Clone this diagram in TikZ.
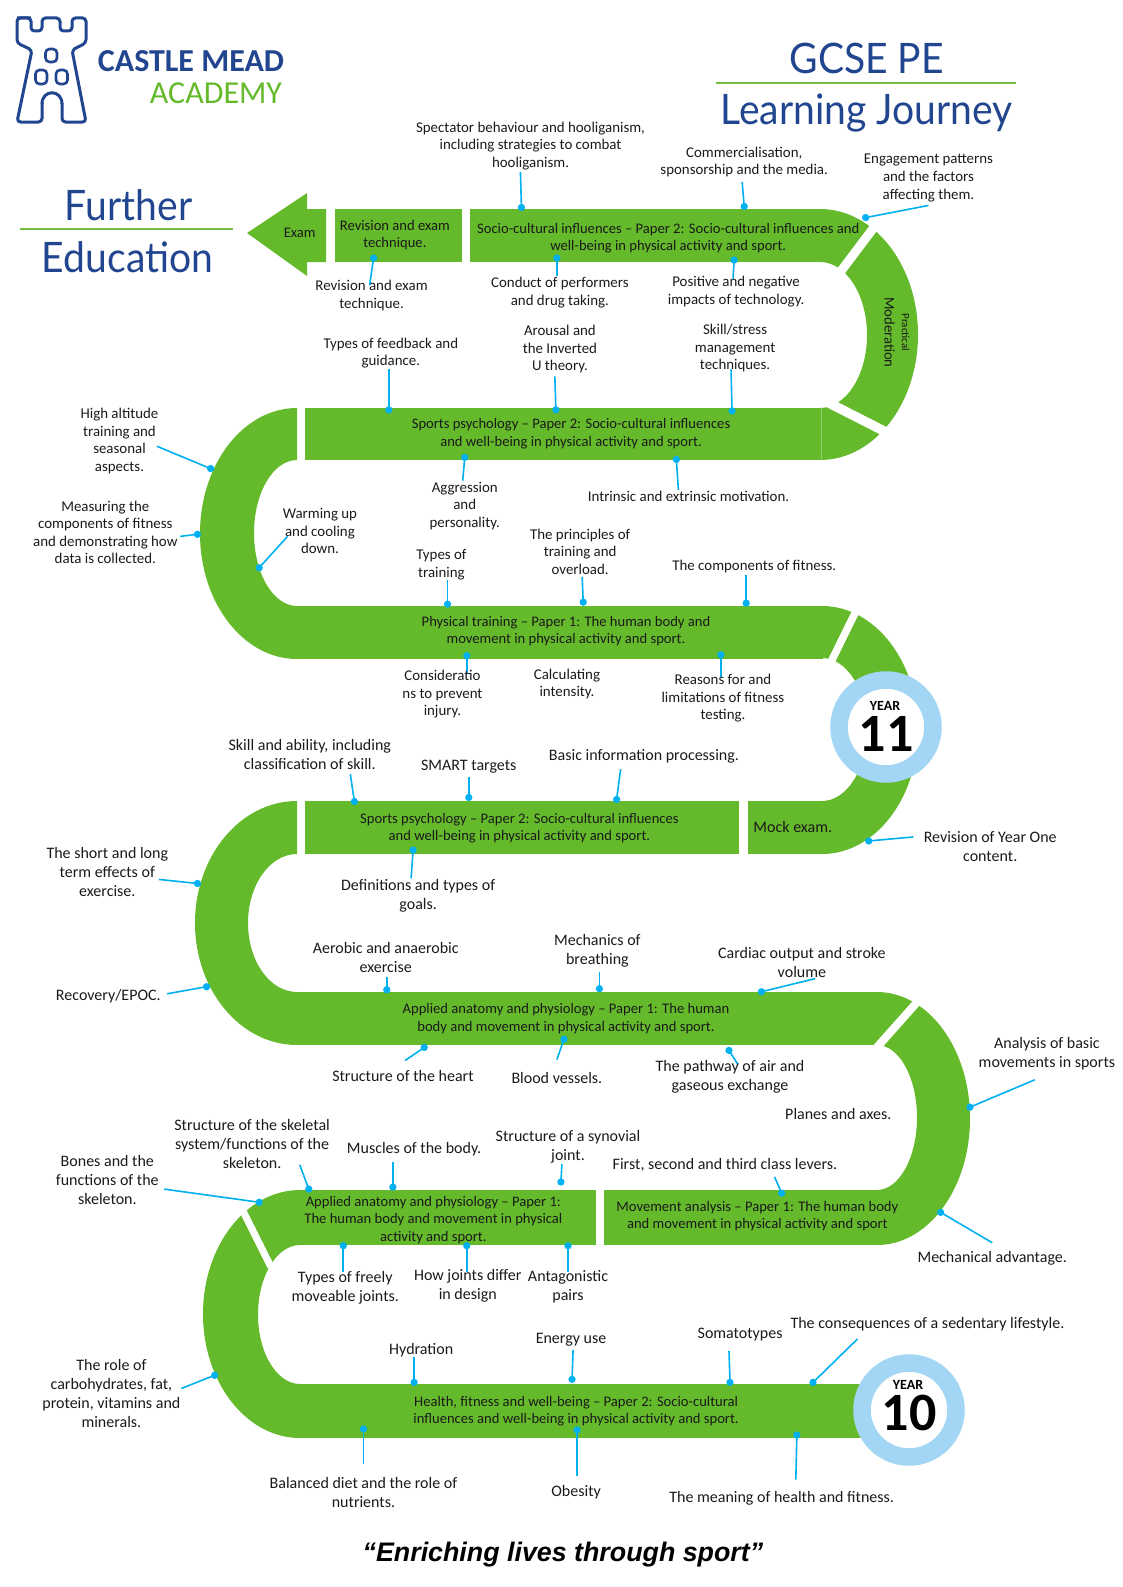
\documentclass[tikz,border=0pt]{standalone}
\usepackage{fontspec}
\setmainfont{Carlito}
\newfontfamily\titlefont[FakeStretch=0.93]{Lato}
\newfontfamily\quotefont{Liberation Sans}
\definecolor{trk}{HTML}{65BA2C}
\definecolor{blu}{HTML}{00B0F0}
\definecolor{nav}{HTML}{21468F}
\definecolor{ringc}{HTML}{A3D6F5}
\definecolor{txt}{HTML}{1A1A1A}
\tikzset{
 lab/.style={align=center,inner sep=0pt,text=txt,yshift=-1pt,font=\fontsize{14.9}{17.6}\selectfont},
 labw/.style={align=center,inner sep=0pt,text=txt,yshift=-0.6pt,font=\fontsize{16}{19}\selectfont},
 bandt/.style={align=center,inner sep=0pt,text=txt,yshift=-1.5pt,font=\fontsize{14.6}{17.2}\selectfont},
 conn/.style={draw=blu,line width=1.6pt},
 dotn/.style={circle,fill=blu,inner sep=0pt,minimum size=7.3pt},
 gapl/.style={draw=white,line width=#1},
 titlet/.style={inner sep=0pt,text=nav,font=\titlefont\fontsize{42}{46}\selectfont},
 ruleg/.style={draw=trk!90!white,line width=1.8pt},
 yearring/.style={circle,draw=ringc,fill=white,line width=17.5pt,minimum size=94pt,inner sep=0pt},
 yr/.style={inner sep=0pt,font=\bfseries\fontsize{14}{14}\selectfont},
 yn/.style={inner sep=0pt,text height=34pt,text depth=0pt,font=\bfseries\fontsize{54}{54}\selectfont}
}
\newcommand{\cn}[3]{\coordinate (s#1) at (#2); \node[dotn] (d#1) at (#3) {}; \draw[conn] (s#1) -- (d#1.center);}
\begin{document}
\begin{tikzpicture}[x=1pt,y=-1pt]
\useasboundingbox (0,0) rectangle (1123,1587);
% track
\fill[trk] (247,233) -- (307,193) -- (307,209) -- (326,209) -- (326,262) -- (307,262) -- (307,276) -- cycle;
\fill[trk] (335,209) rectangle (462,262);
\fill[trk] (470,209) rectangle (821,262);
\fill[trk] (820,209) arc[start angle=90,end angle=-90,x radius=98pt,y radius=125.5pt] -- (820,408) arc[start angle=-90,end angle=90,x radius=47pt,y radius=73pt] -- cycle;
\fill[trk] (305,408) rectangle (821,460);
\fill[trk] (297,408) arc[start angle=90,end angle=270,x radius=97pt,y radius=125.5pt] -- (297,606) arc[start angle=270,end angle=90,x radius=43pt,y radius=73pt] -- cycle;
\fill[trk] (297,606) rectangle (823,659);
\fill[trk] (822,606) arc[start angle=90,end angle=-90,x radius=96pt,y radius=124pt] -- (822,801) arc[start angle=-90,end angle=90,x radius=45pt,y radius=71.5pt] -- cycle;
\fill[trk] (748,801) rectangle (823,854);
\fill[trk] (305,801) rectangle (739,854);
\fill[trk] (297,801) arc[start angle=90,end angle=270,x radius=102pt,y radius=122pt] -- (297,992) arc[start angle=270,end angle=90,x radius=49pt,y radius=69pt] -- cycle;
\fill[trk] (297,992) rectangle (880,1045);
\fill[trk] (877,992) arc[start angle=90,end angle=-90,x radius=93pt,y radius=126.5pt] -- (877,1190) arc[start angle=-90,end angle=90,x radius=40pt,y radius=72.5pt] -- cycle;
\fill[trk] (604,1190) rectangle (879,1245);
\fill[trk] (300,1190) rectangle (596,1245);
\fill[trk] (300,1190) arc[start angle=90,end angle=270,x radius=97pt,y radius=124pt] -- (300,1384) arc[start angle=270,end angle=90,x radius=42pt,y radius=69.5pt] -- cycle;
\fill[trk] (300,1384) rectangle (890,1438);
% gaps
\draw[gapl=9pt] (878,222) -- (838,275);
\draw[gapl=9.5pt] (825,401) -- (893,435.6);
\draw[gapl=7.5pt] (858,607) -- (828,668);
\draw[gapl=8pt] (919,1000) -- (871,1054);
\draw[gapl=7pt] (243,1211) -- (271,1267);
\draw[line width=.4pt,color=trk!70!white] (821,408) -- (821,460);
% rings
\node[yearring] (ring11) at (886,727) {};
\node[yearring] (ring10) at (909,1410) {};
\node[yr] (y11a) at (885,705.5) {YEAR};
\node[yn] (y11b) at (886,734) {11};
\node[yr] (y10a) at (908,1384.5) {YEAR};
\node[yn] (y10b) at (909,1413) {10};
% logo
\draw[nav,line width=3pt,rounded corners=3.5pt] (17,18) -- (31,18) -- (31,31) -- (42,31) -- (42,18) -- (60,18) -- (60,31) -- (72,31) -- (72,18) -- (86,18) -- (86,43) -- (72,50) -- (86,122) -- (62,122) -- (62,103);
\draw[nav,line width=3pt] (62,104) .. controls (62,89) and (42,89) .. (42,104);
\draw[nav,line width=3pt,rounded corners=3.5pt] (42,103) -- (42,122) -- (17,122) -- (32,50) -- (17,43) -- (17,18) -- (31,18);
\draw[nav,line width=2.6pt,rounded corners=4pt] (45.5,49) rectangle (57,62);
\draw[nav,line width=2.6pt,rounded corners=4pt] (35.5,70) rectangle (47,84);
\draw[nav,line width=2.6pt,rounded corners=4pt] (56,70) rectangle (67.5,84);
\node[inner sep=0pt,text=nav,font=\bfseries\fontsize{32}{32}\selectfont] (logoa) at (191,61) {CASTLE MEAD};
\node[inner sep=0pt,text=trk,font=\fontsize{32}{32}\selectfont] (logob) at (216,93) {ACADEMY};
\begin{scope}[x=1.0125pt,y=-1.012pt]
% titles
\node[titlet] (gcse) at (856,58) {GCSE PE};
\coordinate (r1a) at (707,82); \coordinate (r1b) at (1003,82);
\draw[ruleg] (r1a) -- (r1b);
\node[titlet] (lj) at (856,112) {Learning Journey};
\node[titlet] (fur) at (127,203) {Further};
\coordinate (r2a) at (20,226); \coordinate (r2b) at (230,226);
\draw[ruleg] (r2a) -- (r2b);
\node[titlet] (edu) at (126,254) {Education};
\node[inner sep=0pt,font=\quotefont\bfseries\itshape\fontsize{26.8}{26.8}\selectfont] (quote) at (556,1536) {“Enriching lives through sport”};
% band labels
\node[bandt] (b1) at (296,229) {Exam};
\node[bandt] (b2) at (390,231) {Revision and exam\\technique.};
\node[bandt] (b3) at (660,234) {Socio-cultural influences – Paper 2: Socio-cultural influences and\\well-being in physical activity and sport.};
\node[bandt,rotate=-90] (b4) at (886,327) {{\fontsize{11}{13}\selectfont Practical}\\Moderation};
\node[bandt] (b5) at (564,427) {Sports psychology – Paper 2: Socio-cultural influences\\and well-being in physical activity and sport.};
\node[bandt] (b6) at (559,622) {Physical training – Paper 1: The human body and\\movement in physical activity and sport.};
\node[bandt] (b7) at (513,817) {Sports psychology – Paper 2: Socio-cultural influences\\and well-being in physical activity and sport.};
\node[labw] (b8) at (783,817) {Mock exam.};
\node[bandt] (b9) at (559,1005) {Applied anatomy and physiology – Paper 1: The human\\body and movement in physical activity and sport.};
\node[bandt] (b10) at (748,1200) {Movement analysis – Paper 1: The human body\\and movement in physical activity and sport};
\node[bandt] (b11) at (428,1204) {Applied anatomy and physiology – Paper 1:\\The human body and movement in physical\\activity and sport.};
\node[bandt] (b12) at (569,1393) {Health, fitness and well-being – Paper 2: Socio-cultural\\influences and well-being in physical activity and sport.};
% connectors
\cn{a}{514,170}{515,205}
\cn{b}{733,180}{735,204}
\cn{c}{917,203}{855,215}
\cn{d}{365,282}{369,255}
\cn{e}{550,273}{550,255}
\cn{f}{724,276}{725,257}
\cn{g}{384,365}{384,405}
\cn{h}{548,372}{549,405}
\cn{i}{722,365}{723,406}
\cn{j}{457,475}{459,452}
\cn{k}{670,484}{668,454}
\cn{l}{155,441}{208,463}
\cn{m}{178,530}{195,528}
\cn{n}{284,530}{256,561}
\cn{o}{442,573}{442,597}
\cn{p}{575,570}{576,595}
\cn{q}{737,568}{737,596}
\cn{r}{461,665}{461,648}
\cn{s}{712,669}{712,647}
\cn{t}{346,765}{350,792}
\cn{u}{463,768}{463,788}
\cn{v}{613,760}{609,790}
\cn{w}{406,868}{408,840}
\cn{x}{157,869}{195,873}
\cn{y}{165,982}{204,975}
\cn{z}{382,965}{382,978}
\cn{aa}{592,960}{592,977}
\cn{ab}{805,967}{752,980}
\cn{ac}{400,1048}{419,1035}
\cn{ad}{550,1047}{557,1027}
\cn{ae}{729,1052}{720,1038}
\cn{af}{1022,1067}{958,1094}
\cn{ag}{980,1228}{929,1198}
\cn{ah}{765,1163}{772,1179}
\cn{ai}{296,1151}{305,1175}
\cn{aj}{162,1175}{256,1188}
\cn{ak}{388,1148}{388,1173}
\cn{al}{555,1150}{554,1168}
\cn{am}{339,1257}{339,1231}
\cn{an}{461,1257}{461,1231}
\cn{ao}{561,1257}{561,1231}
\cn{ap}{409,1341}{409,1366}
\cn{aq}{566,1334}{565,1363}
\cn{ar}{720,1335}{721,1366}
\cn{as}{847,1323}{803,1366}
\cn{at}{179,1372}{212,1359}
\cn{au}{359,1447}{359,1412}
\cn{av}{570,1458}{570,1413}
\cn{aw}{786,1462}{787,1418}
\cn{ax}{902,827}{858,831}
% labels
\node[lab] (l1) at (524,143) {Spectator behaviour and hooliganism,\\including strategies to combat\\hooliganism.};
\node[lab] (l2) at (735,159) {Commercialisation,\\sponsorship and the media.};
\node[lab] (l3) at (917,175) {Engagement patterns\\and the factors\\affecting them.};
\node[lab] (l4) at (367,291) {Revision and exam\\technique.};
\node[lab] (l5) at (553,288) {Conduct of performers\\and drug taking.};
\node[lab] (l6) at (727,287) {Positive and negative\\impacts of technology.};
\node[lab] (l7) at (386,348) {Types of feedback and\\guidance.};
\node[lab] (l8) at (553,344) {Arousal and\\the Inverted\\U theory.};
\node[lab] (l9) at (726,343) {Skill/stress\\management\\techniques.};
\node[lab] (l10) at (118,435) {High altitude\\training and\\seasonal\\aspects.};
\node[lab] (l11) at (104,525) {Measuring the\\components of fitness\\and demonstrating how\\data is collected.};
\node[lab] (l12) at (316,524) {Warming up\\and cooling\\down.};
\node[lab] (l13) at (459,499) {Aggression\\and\\personality.};
\node[lab] (l14) at (680,490) {Intrinsic and extrinsic motivation.};
\node[lab] (l15) at (436,557) {Types of\\training};
\node[lab] (l16) at (573,544) {The principles of\\training and\\overload.};
\node[lab] (l17) at (745,559) {The components of fitness.};
\node[lab] (l18) at (437,685) {Consideratio\\ns to prevent\\injury.};
\node[lab] (l19) at (560,675) {Calculating\\intensity.};
\node[lab] (l20) at (714,689) {Reasons for and\\limitations of fitness\\testing.};
\node[labw] (l21) at (306,745) {Skill and ability, including\\classification of skill.};
\node[labw] (l22) at (463,757) {SMART targets};
\node[labw] (l23) at (636,747) {Basic information processing.};
\node[labw] (l24) at (106,861) {The short and long\\term effects of\\exercise.};
\node[labw] (l25) at (413,885) {Definitions and types of\\goals.};
\node[labw] (l26) at (381,946) {Aerobic and anaerobic\\exercise};
\node[labw] (l27) at (590,939) {Mechanics of\\breathing};
\node[labw] (l28) at (792,950) {Cardiac output and stroke\\volume};
\node[labw] (l29) at (107,984) {Recovery/EPOC.};
\node[labw] (l30) at (398,1063) {Structure of the heart};
\node[labw] (l31) at (550,1065) {Blood vessels.};
\node[labw] (l32) at (721,1063) {The pathway of air and\\gaseous exchange};
\node[labw] (l33) at (1034,1041) {Analysis of basic\\movements in sports};
\node[labw] (l34) at (828,1100) {Planes and axes.};
\node[labw] (l35) at (716,1151) {First, second and third class levers.};
\node[labw] (l36) at (561,1133) {Structure of a synovial\\joint.};
\node[labw] (l37) at (409,1135) {Muscles of the body.};
\node[labw] (l38) at (249,1130) {Structure of the skeletal\\system/functions of the\\skeleton.};
\node[labw] (l39) at (106,1165) {Bones and the\\functions of the\\skeleton.};
\node[labw] (l40) at (978,836) {Revision of Year One\\content.};
\node[labw] (l41) at (980,1243) {Mechanical advantage.};
\node[labw] (l42) at (341,1272) {Types of freely\\moveable joints.};
\node[labw] (l43) at (462,1270) {How joints differ\\in design};
\node[labw] (l44) at (561,1271) {Antagonistic\\pairs};
\node[labw] (l45) at (110,1376) {The role of\\carbohydrates, fat,\\protein, vitamins and\\minerals.};
\node[labw] (l46) at (416,1334) {Hydration};
\node[labw] (l47) at (564,1323) {Energy use};
\node[labw] (l48) at (731,1318) {Somatotypes};
\node[labw] (l49) at (916,1308) {The consequences of a sedentary lifestyle.};
\node[labw] (l50) at (359,1474) {Balanced diet and the role of\\nutrients.};
\node[labw] (l51) at (569,1474) {Obesity};
\node[labw] (l52) at (772,1480) {The meaning of health and fitness.};
\end{scope}
\end{tikzpicture}
\end{document}
